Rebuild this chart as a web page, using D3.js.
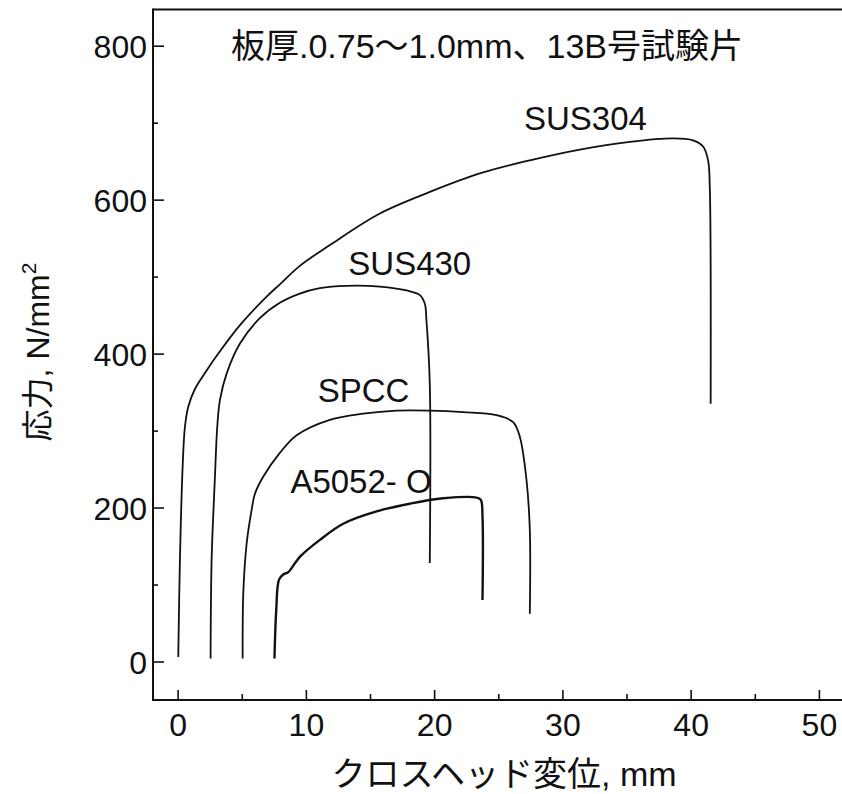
<!DOCTYPE html>
<html><head><meta charset="utf-8">
<script src="https://cdn.jsdelivr.net/npm/d3@7"></script>
<style>
body{margin:0;background:#fff;}
svg{display:block;}
text{font-family:"Liberation Sans",Arial,"Noto Sans CJK JP",sans-serif;fill:#111;}
</style></head>
<body>
<svg id="c" width="842" height="794"></svg>
<script>
// ---- data ----
const xTicksMajor = [0, 10, 20, 30, 40, 50];
const xTicksMinor = [5, 15, 25, 35, 45];
const yTicksMajor = [0, 200, 400, 600, 800];
const yTicksMinor = [100, 300, 500, 700];

const seriesNames = ["SUS304", "SUS430", "SPCC", "A5052- O"];

const sus304X = [0.05, 0.18, 0.39, 0.57, 0.83, 1.35, 2.26, 3.17, 4.86, 6.94, 7.97, 9.53, 11.87, 15.77, 19.67, 23.56, 27.46, 31.36, 35.26, 38.63, 40.19, 40.97, 41.36, 41.49, 41.56];
const sus304Y = [6, 132, 253, 305, 331, 354, 378, 400, 437, 474, 490, 514, 541, 582, 610, 634, 651, 665, 675, 679.5, 677, 669, 651, 617, 335];

const sus430X = [2.57, 2.65, 2.91, 3.09, 3.30, 3.82, 4.86, 6.41, 7.97, 9.53, 11.09, 13.17, 15.77, 17.85, 18.89, 19.27, 19.40, 19.66, 19.66];
const sus430Y = [4, 132, 240, 305, 340, 374, 413, 446, 466, 478, 485, 488, 487, 482, 476, 465, 443, 361, 128];

const spccX = [5.07, 5.12, 5.38, 5.77, 6.03, 6.67, 7.97, 9.28, 11.87, 14.47, 17.07, 19.66, 22.26, 24.86, 26.16, 26.68, 27.20, 27.46, 27.46];
const spccY = [4, 89, 153, 197, 218, 240, 271, 294, 314, 322, 326, 326, 324, 320, 311, 292, 236, 171, 62];

const a5052X = [7.55, 7.69, 7.90, 8.23, 8.62, 9.53, 11.09, 12.91, 15.51, 18.10, 20.70, 23.30, 23.64, 23.77, 23.77];
const a5052Y = [4, 67, 106, 113, 116, 136, 158, 179, 195, 205, 212, 213, 210, 188, 80];

// label anchor values (data coords)
const labelX = [31.8, 18.1, 14.5, 14.3];
const labelY = [690, 502, 337, 219];

const titleText = "板厚.0.75～1.0mm、13B号試験片";
const xTitle = "クロスヘッド変位, mm";
const yTitle = "応力, N/mm";

// ---- drawing ----
const svg = d3.select("#c");
const pLeft = 153, pRight = 842, pTop = 9.5, pBottom = 700;
const x = d3.scaleLinear().domain([-1.92, 51.8]).range([pLeft, pRight]);
const y = d3.scaleLinear().domain([-50, 847]).range([pBottom, pTop]);

const ink = "#111";

// x axis
const gx = svg.append("g").attr("transform", `translate(0,${pBottom})`);
gx.call(d3.axisBottom(x).tickValues(xTicksMajor).tickSize(-10).tickSizeOuter(0).tickPadding(14));
gx.append("g").call(d3.axisBottom(x).tickValues(xTicksMinor).tickSize(-6).tickSizeOuter(0).tickFormat(""));
// y axis
const gy = svg.append("g").attr("transform", `translate(${pLeft},0)`);
gy.call(d3.axisLeft(y).tickValues(yTicksMajor).tickSize(-11).tickSizeOuter(0).tickPadding(6));
gy.append("g").call(d3.axisLeft(y).tickValues(yTicksMinor).tickSize(-5).tickSizeOuter(0).tickFormat(""));

svg.selectAll(".tick line").attr("stroke", ink).attr("stroke-width", 1.6);
svg.selectAll(".tick text").attr("font-size", 32).attr("fill", ink)
  .style("font-family", '"Liberation Sans",Arial,sans-serif');
gx.selectAll(".tick text").attr("dy", "0.68em");
gy.selectAll(".tick text").attr("dy", "0.36em");

// frame lines (bottom, left, top)
svg.selectAll(".domain").remove();
svg.append("line").attr("x1", pLeft).attr("x2", pRight).attr("y1", pBottom).attr("y2", pBottom)
  .attr("stroke", ink).attr("stroke-width", 2);
svg.append("line").attr("x1", pLeft).attr("x2", pLeft).attr("y1", pTop - 1).attr("y2", pBottom + 1)
  .attr("stroke", ink).attr("stroke-width", 2);
svg.append("line").attr("x1", pLeft).attr("x2", pRight).attr("y1", pTop).attr("y2", pTop)
  .attr("stroke", ink).attr("stroke-width", 2);

// curves
const line = d3.line().x(d => x(d[0])).y(d => y(d[1])).curve(d3.curveCatmullRom.alpha(0.5));
const series = [
  [sus304X, sus304Y, 1.8],
  [sus430X, sus430Y, 1.8],
  [spccX, spccY, 1.8],
  [a5052X, a5052Y, 2.4]
];
series.forEach(([xs, ys, w]) => {
  svg.append("path").datum(d3.zip(xs, ys)).attr("d", line)
    .attr("fill", "none").attr("stroke", ink).attr("stroke-width", w)
    .attr("stroke-linejoin", "round");
});

// series labels
seriesNames.forEach((n, i) => {
  svg.append("text").attr("x", x(labelX[i])).attr("y", y(labelY[i]))
    .attr("text-anchor", "middle").attr("font-size", 33).text(n);
});

// title
svg.append("text").attr("x", 487).attr("y", 58).attr("text-anchor", "middle")
  .attr("font-size", 34).text(titleText);

// x title
svg.append("text").attr("x", 504).attr("y", 786).attr("text-anchor", "middle")
  .attr("font-size", 34).text(xTitle);

// y title
const yt = svg.append("text").attr("transform", "translate(49,352) rotate(-90)")
  .attr("text-anchor", "middle").attr("font-size", 32);
yt.append("tspan").text(yTitle);
yt.append("tspan").attr("dy", -13).attr("font-size", 21).text("2");
</script>
</body></html>
